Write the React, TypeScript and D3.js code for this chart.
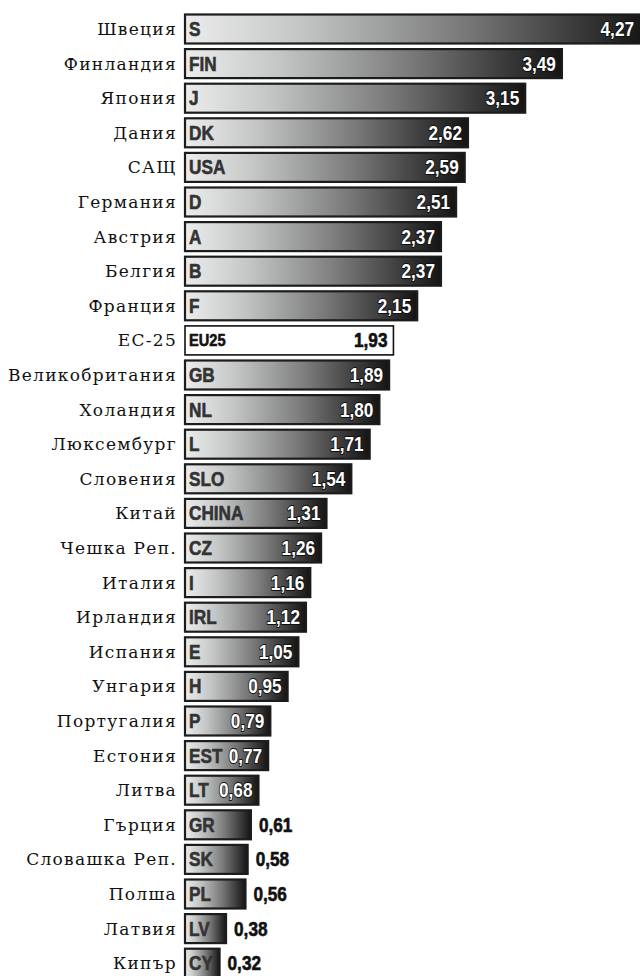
import React from "react";
import * as d3 from "d3";

const countries = [
  "Швеция", "Финландия", "Япония", "Дания", "САЩ", "Германия", "Австрия", "Белгия",
  "Франция", "ЕС-25", "Великобритания", "Холандия", "Люксембург", "Словения", "Китай",
  "Чешка Реп.", "Италия", "Ирландия", "Испания", "Унгария", "Португалия", "Естония",
  "Литва", "Гърция", "Словашка Реп.", "Полша", "Латвия", "Кипър",
];
const codes = [
  "S", "FIN", "J", "DK", "USA", "D", "A", "B", "F", "EU25", "GB", "NL", "L", "SLO", "CHINA",
  "CZ", "I", "IRL", "E", "H", "P", "EST", "LT", "GR", "SK", "PL", "LV", "CY",
];
const values = [
  4.27, 3.49, 3.15, 2.62, 2.59, 2.51, 2.37, 2.37, 2.15, 1.93, 1.89, 1.8, 1.71, 1.54, 1.31,
  1.26, 1.16, 1.12, 1.05, 0.95, 0.79, 0.77, 0.68, 0.61, 0.58, 0.56, 0.38, 0.32,
];
const highlight = "EU25";
const outsideThreshold = 0.65;

const W = 640;
const H = 976;
const X0 = 185;
const PX_PER_UNIT = 108;
const FIRST_CENTER = 29;
const PITCH = 34.6;
const BAR_H = 29;

const sans = "'Liberation Sans', Arial, sans-serif";
const serif = "'DejaVu Serif', 'Liberation Serif', serif";

const fmt = (v: number) => d3.format(".2f")(v).replace(".", ",");

function Cond({
  x,
  y,
  anchor = "start",
  size,
  fill,
  stroke,
  sw,
  children,
}: {
  x: number;
  y: number;
  anchor?: "start" | "end";
  size: number;
  fill: string;
  stroke?: string;
  sw?: number;
  children: React.ReactNode;
}) {
  return (
    <text
      transform={`translate(${x},${y}) scale(0.86,1)`}
      textAnchor={anchor}
      fontFamily={sans}
      fontWeight="bold"
      fontSize={size}
      fill={fill}
      stroke={stroke ?? "none"}
      strokeWidth={stroke ? sw ?? 1.6 : 0}
      strokeLinejoin="round"
      style={{ paintOrder: "stroke" }}
    >
      {children}
    </text>
  );
}

export default function App() {
  const x = d3.scaleLinear().domain([0, 1]).range([X0, X0 + PX_PER_UNIT]);
  const y = d3
    .scaleBand<string>()
    .domain(codes)
    .range([FIRST_CENTER - PITCH / 2, FIRST_CENTER - PITCH / 2 + PITCH * codes.length])
    .paddingInner(0)
    .paddingOuter(0);

  return (
    <svg
      width={W}
      height={H}
      style={{ position: "absolute", left: 0, top: 0, background: "#fff" }}
    >
      <defs>
        <linearGradient id="barGrad" x1="0" x2="1" y1="0" y2="0">
          <stop offset="0" stopColor="#ececec" />
          <stop offset="0.25" stopColor="#c4c6c6" />
          <stop offset="0.6" stopColor="#7a7a7a" />
          <stop offset="1" stopColor="#141414" />
        </linearGradient>
      </defs>
      {codes.map((c, i) => {
        const v = values[i];
        const cy = (y(c) as number) + PITCH / 2;
        const top = cy - BAR_H / 2;
        const x1 = x(v);
        const isHi = c === highlight;
        const outside = v < outsideThreshold;
        return (
          <g key={c}>
            <text
              x={177}
              y={cy + 6}
              textAnchor="end"
              fontFamily={serif}
              fontSize={17}
              letterSpacing={1.3}
              fill="#111"
            >
              {countries[i]}
            </text>
            <rect
              x={X0}
              y={top}
              width={x1 - X0}
              height={BAR_H}
              fill={isHi ? "#fff" : "url(#barGrad)"}
              stroke={isHi ? "#111" : "#1c1c1c"}
              strokeWidth={isHi ? 1.6 : 2.2}
            />
            <Cond
              x={X0 + 4}
              y={cy + (isHi ? 6 : 7)}
              size={isHi ? 17 : 20}
              fill={isHi ? "#111" : "#333"}
              stroke={isHi ? "#111" : "#333"}
              sw={0.6}
            >
              {c}
            </Cond>
            {outside ? (
              <Cond x={x1 + 8} y={cy + 7} size={20} fill="#111" stroke="#111" sw={0.6}>
                {fmt(v)}
              </Cond>
            ) : (
              <Cond
                x={Math.min(x1, W) - 6}
                y={cy + 7}
                anchor="end"
                size={20}
                fill={isHi ? "#111" : "#fff"}
                stroke="#111"
                sw={isHi ? 0.6 : 1.8}
              >
                {fmt(v)}
              </Cond>
            )}
          </g>
        );
      })}
    </svg>
  );
}
